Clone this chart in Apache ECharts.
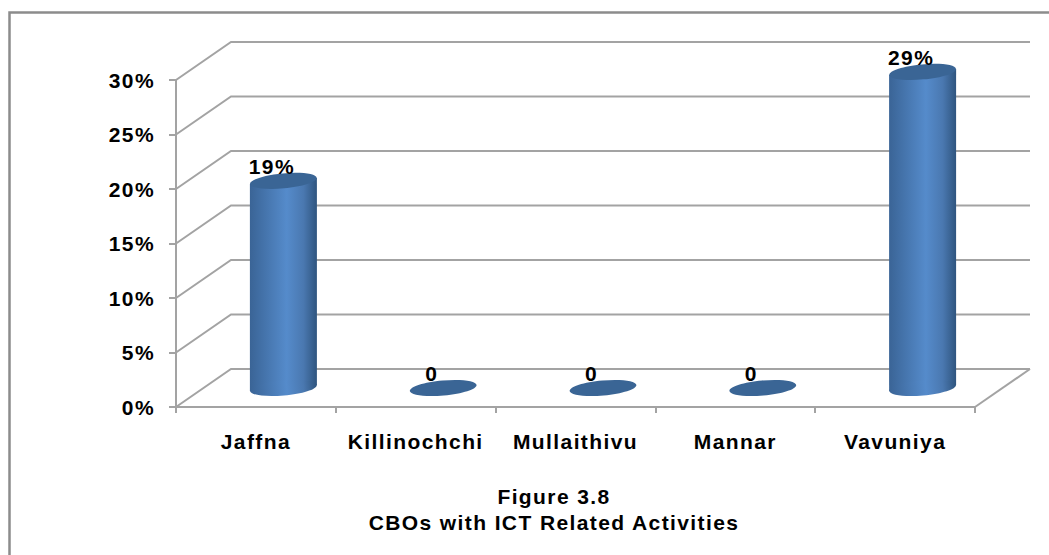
<!DOCTYPE html>
<html>
<head>
<meta charset="utf-8">
<title>CBOs with ICT Related Activities</title>
<style>
  html, body { margin: 0; padding: 0; background: #fff; }
  #chart { width: 1049px; height: 555px; }
  /* reference text is stretched wide, the svg renderer lets css space it out */
  #chart text { letter-spacing: 1.4px; }
</style>
<script src="https://cdn.jsdelivr.net/npm/echarts@6/dist/echarts.min.js"></script>
</head>
<body>
<div id="chart"></div>
<script>
const districts = ['Jaffna', 'Killinochchi', 'Mullaithivu', 'Mannar', 'Vavuniya']
const percentages = [19, 0, 0, 0, 29]
const pointLabels = ['19%', '0', '0', '0', '29%']
const wallTicks = [0, 5, 10, 15, 20, 25, 30]

const FONT = '"Liberation Sans", Arial, sans-serif'
const GREY = '#a3a3a3'
// how far the back wall sits from the front plane
const DEPTH_X = 55
const DEPTH_Y = -38

const chart = echarts.init(document.getElementById('chart'), null, { renderer: 'svg' })

function renderWall(params, api) {
  const y = api.coord([0, api.value(0)])[1]
  const left = params.coordSys.x
  const right = left + params.coordSys.width
  return {
    type: 'polyline',
    shape: {
      points: [
        [left, y],
        [left + DEPTH_X, y + DEPTH_Y],
        [right + DEPTH_X, y + DEPTH_Y],
      ],
    },
    style: { stroke: GREY, lineWidth: 2, fill: null },
  }
}

function renderFloorEdge(params, api) {
  const y = api.coord([0, 0])[1]
  const right = params.coordSys.x + params.coordSys.width
  return {
    type: 'line',
    shape: { x1: right, y1: y, x2: right + DEPTH_X, y2: y + DEPTH_Y },
    style: { stroke: GREY, lineWidth: 2 },
  }
}

function bodyGradient() {
  return new echarts.graphic.LinearGradient(0, 0, 1, 0, [
    { offset: 0, color: '#3a6496' },
    { offset: 0.55, color: '#558bcb' },
    { offset: 0.8, color: '#4a78b0' },
    { offset: 1, color: '#2f557f' },
  ])
}

function renderCylinder(params, api) {
  const base = api.coord([api.value(0), 0])
  const top = api.coord([api.value(0), api.value(1)])
  const cx = base[0] + DEPTH_X / 2
  const by = base[1] + DEPTH_Y / 2
  const ty = top[1] + DEPTH_Y / 2
  const rx = 33.5
  const ry = 7.5
  const tilt = 0.09
  const lift = rx * tilt
  const children = []
  if (api.value(1) > 0) {
    children.push({
      type: 'polygon',
      shape: {
        points: [
          [cx - rx, ty + lift],
          [cx + rx, ty - lift],
          [cx + rx, by - lift],
          [cx - rx, by + lift],
        ],
      },
      style: { fill: bodyGradient() },
    })
    children.push({
      type: 'ellipse',
      shape: { cx: 0, cy: 0, rx: rx, ry: ry },
      x: cx, y: by, rotation: tilt,
      style: { fill: bodyGradient() },
    })
  }
  children.push({
    type: 'ellipse',
    shape: { cx: 0, cy: 0, rx: rx, ry: ry },
    x: cx, y: ty, rotation: tilt,
    style: { fill: '#3a6595' },
  })
  children.push({
    type: 'text',
    style: {
      x: base[0] + 16,
      y: ty - 4,
      text: pointLabels[params.dataIndex],
      font: 'bold 21px ' + FONT,
      fill: '#000',
      align: 'center',
      verticalAlign: 'bottom',
    },
    z2: 10,
  })
  return { type: 'group', children }
}

chart.setOption({
  animation: false,
  backgroundColor: '#fff',
  title: {
    text: 'Figure 3.8\nCBOs with ICT Related Activities',
    left: 549,
    top: 478,
    textAlign: 'center',
    textStyle: {
      fontFamily: FONT,
      fontSize: 21,
      fontWeight: 'bold',
      lineHeight: 26,
      color: '#000',
    },
  },
  graphic: [
    {
      type: 'polyline',
      silent: true,
      shape: { points: [[9.5, 555], [9.5, 12.5], [1049, 12.5]] },
      style: { fill: null, stroke: '#8c8c8c', lineWidth: 2.5 },
    },
  ],
  grid: { left: 176, right: 74, top: 80, bottom: 148 },
  xAxis: {
    type: 'category',
    data: districts,
    axisLine: { lineStyle: { color: GREY, width: 2 } },
    axisTick: { show: true, length: 6, lineStyle: { color: GREY, width: 2 } },
    axisLabel: {
      margin: 24,
      fontFamily: FONT,
      fontSize: 21,
      fontWeight: 'bold',
      color: '#000',
    },
  },
  yAxis: {
    type: 'value',
    min: 0,
    max: 30,
    interval: 5,
    splitLine: { show: false },
    axisLine: { show: true, lineStyle: { color: GREY, width: 2 } },
    axisTick: { show: true, length: 7, lineStyle: { color: GREY, width: 2 } },
    axisLabel: {
      margin: 21,
      formatter: '{value}%',
      fontFamily: FONT,
      fontSize: 21,
      fontWeight: 'bold',
      color: '#000',
    },
  },
  series: [
    {
      type: 'custom',
      coordinateSystem: 'cartesian2d',
      renderItem: renderWall,
      data: wallTicks.map((t) => [t]),
      encode: { y: 0 },
      clip: false,
      silent: true,
      z: 1,
    },
    {
      type: 'custom',
      coordinateSystem: 'cartesian2d',
      renderItem: renderFloorEdge,
      data: [[0]],
      encode: { y: 0 },
      clip: false,
      silent: true,
      z: 1,
    },
    {
      type: 'custom',
      coordinateSystem: 'cartesian2d',
      renderItem: renderCylinder,
      data: percentages.map((v, i) => [i, v]),
      encode: { x: 0, y: 1 },
      clip: false,
      z: 3,
    },
  ],
})
</script>
</body>
</html>
